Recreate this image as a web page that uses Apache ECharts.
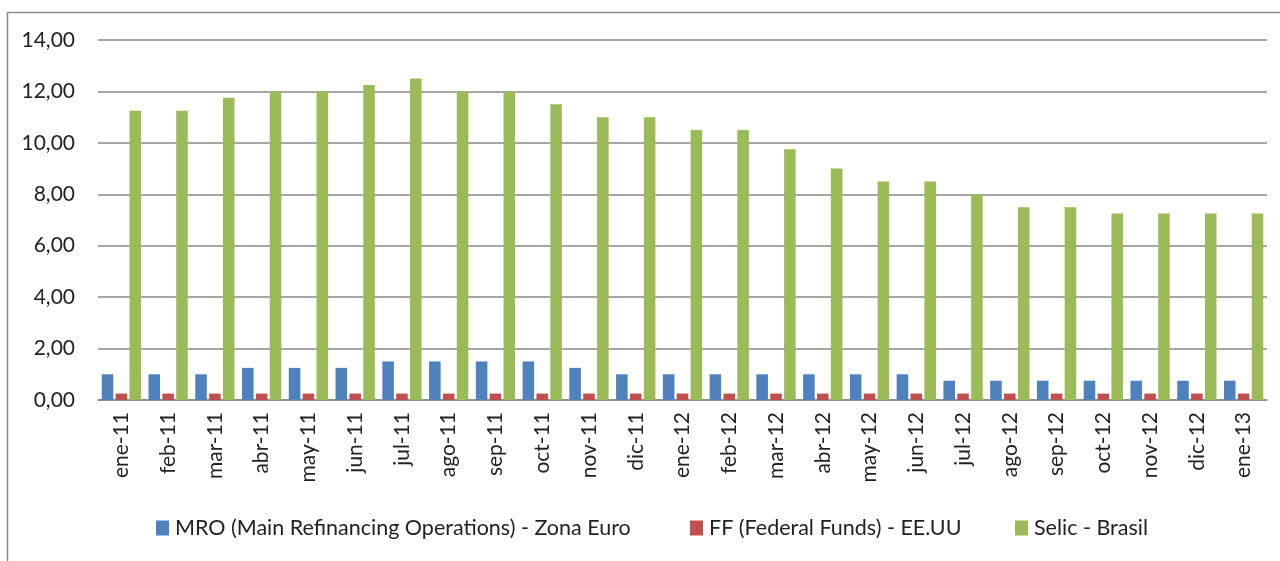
<!DOCTYPE html>
<html><head><meta charset="utf-8">
<script src="https://cdn.jsdelivr.net/npm/echarts@6/dist/echarts.min.js"></script>
<style>html,body{margin:0;padding:0;background:#fff}#c{width:1280px;height:561px}</style>
</head><body><div id="c"></div>
<script>
const categories = ['ene-11','feb-11','mar-11','abr-11','may-11','jun-11','jul-11','ago-11','sep-11','oct-11','nov-11','dic-11','ene-12','feb-12','mar-12','abr-12','may-12','jun-12','jul-12','ago-12','sep-12','oct-12','nov-12','dic-12','ene-13'];
const mro = [1.00,1.00,1.00,1.25,1.25,1.25,1.50,1.50,1.50,1.50,1.25,1.00,1.00,1.00,1.00,1.00,1.00,1.00,0.75,0.75,0.75,0.75,0.75,0.75,0.75];
const ff = [0.25,0.25,0.25,0.25,0.25,0.25,0.25,0.25,0.25,0.25,0.25,0.25,0.25,0.25,0.25,0.25,0.25,0.25,0.25,0.25,0.25,0.25,0.25,0.25,0.25];
const selic = [11.25,11.25,11.75,12.00,12.00,12.25,12.50,12.00,12.00,11.50,11.00,11.00,10.50,10.50,9.75,9.00,8.50,8.50,8.00,7.50,7.50,7.25,7.25,7.25,7.25];
const names = ['MRO (Main Refinancing Operations) - Zona Euro','FF (Federal Funds) - EE.UU','Selic - Brasil'];
const colors = ['#4F81BD','#C0504D','#9BBB59'];
const font = 'Lato, "Open Sans", sans-serif';
const chart = echarts.init(document.getElementById('c'));
const legendLefts = [156, 690, 1015];
chart.setOption({
  animation: false,
  graphic: [{type:'rect', shape:{x:7.5,y:12.5,width:1300,height:600}, style:{fill:'none',stroke:'#8c8c8c',lineWidth:1.5}}],
  grid: {left: 98, right: 13, top: 40, bottom: 161, containLabel: false},
  legend: names.map((n,i)=>({
    data:[n], left: legendLefts[i], top: 517, padding: 0, itemWidth: 13, itemHeight: 15, itemGap: 0,
    icon: 'rect', textStyle:{fontFamily:font, fontSize:21.5, color:'#222', padding:[0,0,0,1]}
  })),
  xAxis: {
    type:'category', data: categories,
    axisLine:{lineStyle:{color:'#888', width:1.5}}, axisTick:{show:false},
    axisLabel:{rotate:90, fontFamily:font, fontSize:21, color:'#222', margin:12, interval:0}
  },
  yAxis: {
    type:'value', min:0, max:14, interval:2,
    axisLine:{show:false}, axisTick:{show:false},
    splitLine:{lineStyle:{color:'#888', width:1.5}},
    axisLabel:{fontFamily:font, fontSize:21, color:'#222', margin:23,
      formatter: v => v.toFixed(2).replace('.', ',')}
  },
  series: [mro, ff, selic].map((d,i)=>({
    name: names[i], type:'bar', data:d, barGap:'20%', barCategoryGap:'16%',
    itemStyle:{color:colors[i]}
  }))
});
</script></body></html>
